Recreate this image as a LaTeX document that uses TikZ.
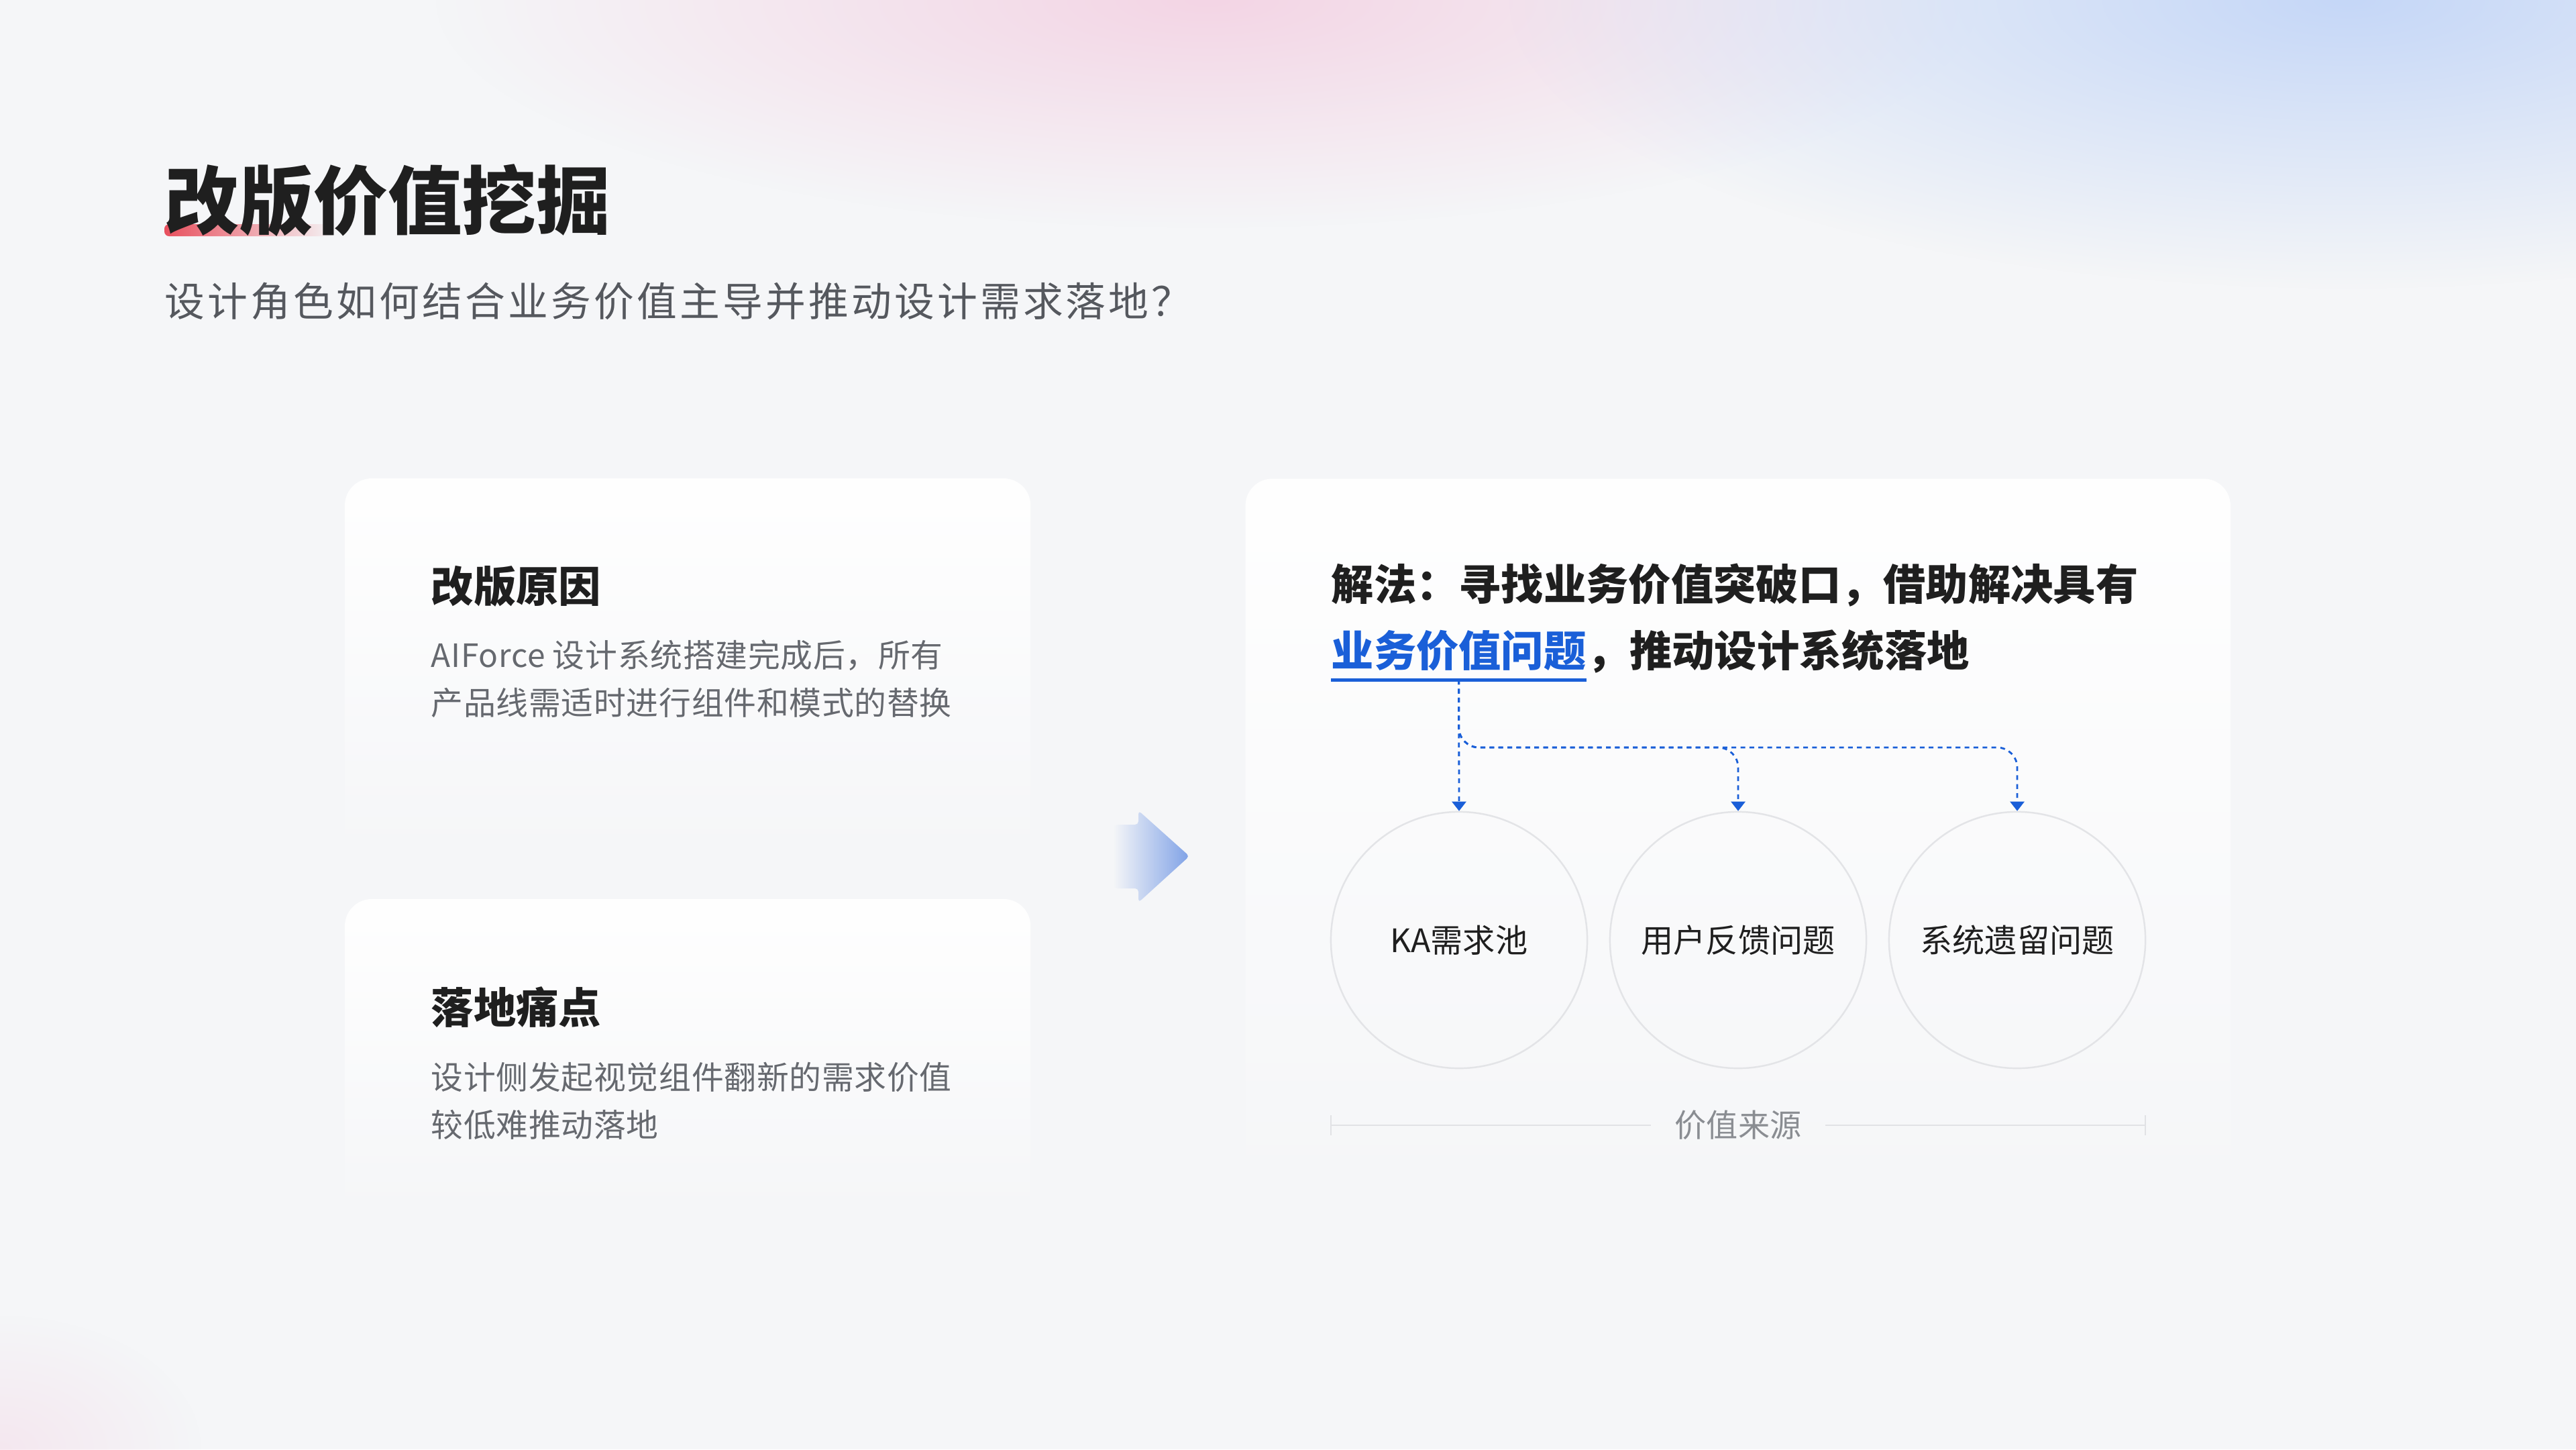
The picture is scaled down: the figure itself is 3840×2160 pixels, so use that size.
\documentclass[tikz,border=0pt]{standalone}
\usepackage{fontspec}
\setmainfont{Noto Sans CJK SC}
\usetikzlibrary{positioning,arrows.meta,fadings,calc}

\definecolor{bg}{HTML}{F5F6F8}
\definecolor{glowpink}{HTML}{F3D5E5}
\definecolor{glowblue}{HTML}{C5D7F7}
\definecolor{ink}{HTML}{1F1F1F}
\definecolor{subgray}{HTML}{55585E}
\definecolor{bodygray}{HTML}{66696F}
\definecolor{accent}{HTML}{1A5FD8}
\definecolor{ring}{HTML}{E3E4E7}
\definecolor{axisgray}{HTML}{E1E2E5}
\definecolor{srcgray}{HTML}{8A8D92}
\definecolor{titlered}{HTML}{E8505E}
\definecolor{arrowblue}{HTML}{7A9EE6}

\tikzfading[name=glow, inner color=transparent!0, outer color=transparent!100]
\tikzfading[name=cardfade, top color=transparent!0, middle color=transparent!20, bottom color=transparent!100]
\tikzfading[name=barfade, left color=transparent!0, middle color=transparent!35, right color=transparent!100]
\tikzfading[name=arrowfade, left color=transparent!100, middle color=transparent!70, right color=transparent!5]

\begin{document}
\begin{tikzpicture}
	[   x=0.01cm,y=-0.01cm,
		card/.style={fill=white,rounded corners=0.4cm,path fading=cardfade},
		head/.style={anchor=west,inner sep=0,text=ink,font=\fontsize{18pt}{22pt}\selectfont\bfseries},
		body/.style={anchor=west,inner sep=0,align=left,text=bodygray,font=\fontsize{13.6pt}{20.2pt}\selectfont\addfontfeature{LetterSpace=1.5}},
		cnode/.style={draw=ring,line width=0.7pt,circle,minimum size=3.82cm,inner sep=0,text=ink,font=\fontsize{13.7pt}{16pt}\selectfont},
		axis/.style={draw=axisgray,line width=0.6pt},
	]
	\tikzset{flow/.style={draw=accent,line width=0.8pt,dash pattern=on 2pt off 1.8pt,-{Triangle[length=4pt,width=6pt]}}}
	\useasboundingbox (0,0) rectangle (3840,2160);
	
	% background
	\fill[bg] (0,0) rectangle (3840,2160);
	\fill[glowpink,path fading=glow] (1800,0) ellipse (1150 and 340);
	\fill[glowblue,path fading=glow] (3500,0) ellipse (1250 and 430);
	\fill[glowpink,path fading=glow,opacity=.45] (0,2160) ellipse (300 and 200);
	
	% title
	\fill[titlered,path fading=barfade,rounded corners=0.07cm] (245,334) rectangle (500,352);
	\node[anchor=west,inner sep=0,text=ink,font=\fontsize{31.5pt}{36pt}\selectfont\bfseries] (title) at (245,299) {改版价值挖掘};
	\node[anchor=west,inner sep=0,text=subgray,font=\fontsize{17pt}{20pt}\selectfont\addfontfeature{LetterSpace=7}] (sub) at (245,449) {设计角色如何结合业务价值主导并推动设计需求落地？};
	
	% left cards
	\fill[card] (514,713) rectangle (1536,1300);
	\fill[card] (514,1340) rectangle (1536,1830);
	\node[head] (h-1) at (642,874) {改版原因};
	\node[body] (t-1) at (642,1012) {AIForce 设计系统搭建完成后，所有\\产品线需适时进行组件和模式的替换};
	\node[head] (h-2) at (642,1501) {落地痛点};
	\node[body] (t-2) at (642,1641) {设计侧发起视觉组件翻新的需求价值\\较低难推动落地};
	
	% big arrow
	\fill[arrowblue,path fading=arrowfade,rounded corners=0.05cm] (1660,1229) -- (1697,1229) -- (1697,1208) -- (1773,1276) -- (1697,1345) -- (1697,1324) -- (1660,1324) -- cycle;
	
	% right card
	\fill[card] (1857,713) rectangle (3326,1830);
	\node[head] (sol) at (1984,872) {解法：寻找业务价值突破口，借助解决具有};
	\node[head,text=accent] (key) at (1984,970) {业务价值问题};
	\node[head,anchor=base west] (rest) at (key.base east) {，推动设计系统落地};
	\draw[accent,line width=1.4pt] ([yshift=-0.12cm]key.south west) -- coordinate (ul) ([yshift=-0.12cm]key.south east);
	
	\foreach \x/\t in {1/KA需求池,2/用户反馈问题,3/系统遗留问题}
	{
		\node[cnode] (c-\x) at ({2175+416*(\x-1)},1401) {\t};
	}
	
	\coordinate (split) at (ul |- 0,1114);
	\path[flow] (ul) -- (c-1.north);
	\foreach \x in {2,3}
	{
		\path[flow,rounded corners=0.3cm] (ul) -- (split) -- (split -| c-\x.north) -- (c-\x.north);
	}
	
	\node[inner xsep=0.35cm,inner ysep=0,text=srcgray,font=\fontsize{13.4pt}{16pt}\selectfont] (src) at (2591,1677) {价值来源};
	\coordinate (ax-l) at (1984,1677);
	\coordinate (ax-r) at (3198,1677);
	\path[axis] (ax-l) -- (src.west);
	\path[axis] (src.east) -- (ax-r);
	\path[axis] ([yshift=0.15cm]ax-l) -- ([yshift=-0.15cm]ax-l);
	\path[axis] ([yshift=0.15cm]ax-r) -- ([yshift=-0.15cm]ax-r);
\end{tikzpicture}
\end{document}
